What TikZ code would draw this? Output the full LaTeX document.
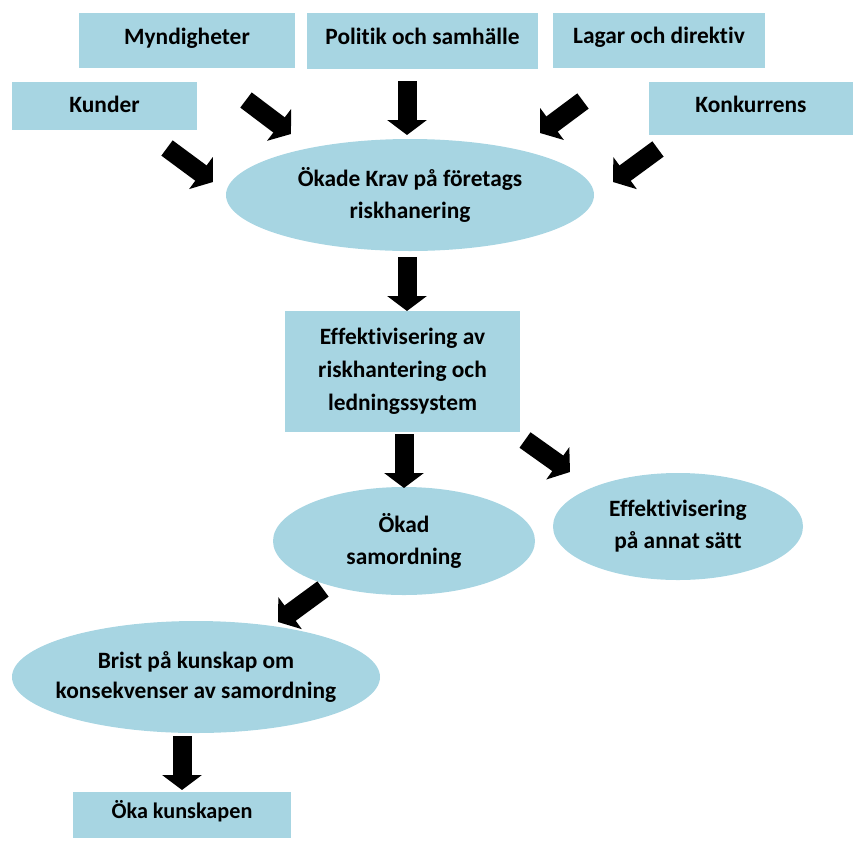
\documentclass[tikz,border=0pt]{standalone}
\usepackage{fontspec}
\setmainfont{Carlito}[Ligatures=NoCommon]
\usetikzlibrary{shapes.geometric,arrows.meta}
\definecolor{lblue}{RGB}{167,213,226}
\tikzset{
  box/.style={rectangle, fill=lblue, inner sep=0pt, outer sep=0pt},
  bubble/.style={ellipse, fill=lblue, inner sep=0pt, outer sep=0pt},
  txt/.style={align=center, inner sep=0pt, font=\fontsize{23.4}{32}\selectfont\bfseries},
  fat/.style={line width=19pt, -{Triangle[width=39pt,length=15pt]}},
}
\begin{document}
\begin{tikzpicture}[x=1pt,y=-1pt]
\useasboundingbox (0,0) rectangle (859,844);
% top boxes
\node[box, minimum width=216pt, minimum height=55pt] (myn) at (187,40.5) {};
\node[txt, anchor=base] at (myn.center |- 0,44) {Myndigheter};
\node[box, minimum width=231pt, minimum height=56pt] (pol) at (422.5,41) {};
\node[txt, anchor=base] at (pol.center |- 0,44) {Politik och samhälle};
\node[box, minimum width=212pt, minimum height=55pt] (lag) at (659,40.5) {};
\node[txt, anchor=base] at (lag.center |- 0,43.5) {Lagar och direktiv};
\node[box, minimum width=185pt, minimum height=48pt] (kun) at (104.5,106) {};
\node[txt, anchor=base] at (kun.center |- 0,112) {Kunder};
\node[box, minimum width=204pt, minimum height=53pt] (kon) at (751,108.5) {};
\node[txt, anchor=base] at (kon.center |- 0,112) {Konkurrens};
% central ellipse
\node[bubble, minimum width=368pt, minimum height=112pt] (krav) at (410,195) {};
\node[txt] at (krav) {Ökade Krav på företags\\riskhanering};
% middle box
\node[box, minimum width=235pt, minimum height=121pt] (eff) at (402.5,371.5) {};
\node[txt, font=\fontsize{23.4}{33}\selectfont\bfseries] at (eff) {Effektivisering av\\riskhantering och\\ledningssystem};
% lower ellipses
\node[bubble, minimum width=262pt, minimum height=108pt] (sam) at (404,541) {};
\node[txt] at (sam) {Ökad\\samordning};
\node[bubble, minimum width=250pt, minimum height=107pt] (ann) at (678,526.5) {};
\node[txt] at (ann) {Effektivisering\\på annat sätt};
\node[bubble, minimum width=368pt, minimum height=112pt] (bri) at (196,677) {};
\node[txt, font=\fontsize{23.4}{30}\selectfont\bfseries] at (bri) {Brist på kunskap om\\konsekvenser av samordning};
\node[box, minimum width=218pt, minimum height=46pt] (oka) at (182,815) {};
\node[txt, anchor=base, font=\fontsize{22.2}{28}\selectfont\bfseries] at (oka.center |- 0,818) {Öka kunskapen};
% arrow end points
\coordinate (a1s) at (246,100); \coordinate (a1e) at (291,134);
\coordinate (a2s) at (167,148); \coordinate (a2e) at (213,182);
\coordinate (a3s) at (407,81);  \coordinate (a3e) at (407,135);
\coordinate (a4s) at (583,101); \coordinate (a4e) at (540,133);
\coordinate (a5s) at (658,149); \coordinate (a5e) at (613,182);
\coordinate (a6s) at (407,257); \coordinate (a6e) at (407,311);
\coordinate (a7s) at (404,434); \coordinate (a7e) at (404,488);
\coordinate (a8s) at (525,440); \coordinate (a8e) at (570,472);
\coordinate (a9s) at (323,589); \coordinate (a9e) at (278,622);
\coordinate (a10s) at (182,736); \coordinate (a10e) at (182,790);
\foreach \i in {1,...,10} {\draw[fat] (a\i s) -- (a\i e);}
\end{tikzpicture}
\end{document}
